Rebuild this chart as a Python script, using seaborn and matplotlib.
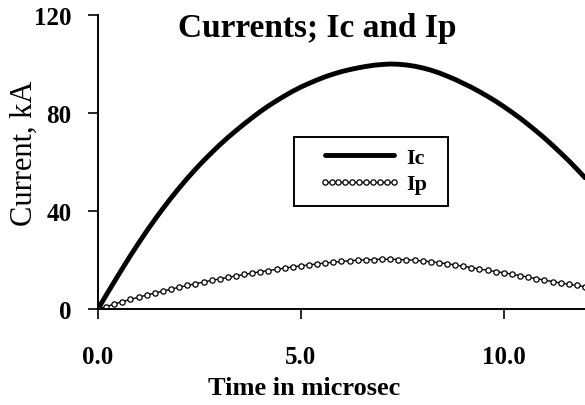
import numpy as np
import pandas as pd
import matplotlib
matplotlib.use('Agg')
import matplotlib.pyplot as plt
import matplotlib.patches as patches
import seaborn as sns

# values (time step 0.2 microsec)
time_us = [0.0, 0.2, 0.4, 0.6, 0.8, 1.0, 1.2, 1.4, 1.6, 1.8,
           2.0, 2.2, 2.4, 2.6, 2.8, 3.0, 3.2, 3.4, 3.6, 3.8,
           4.0, 4.2, 4.4, 4.6, 4.8, 5.0, 5.2, 5.4, 5.6, 5.8,
           6.0, 6.2, 6.4, 6.6, 6.8, 7.0, 7.2, 7.4, 7.6, 7.8,
           8.0, 8.2, 8.4, 8.6, 8.8, 9.0, 9.2, 9.4, 9.6, 9.8,
           10.0, 10.2, 10.4, 10.6, 10.8, 11.0, 11.2, 11.4, 11.6, 11.8,
           12.0]
ic_ka = [0, 5.6, 11.1, 16.5, 21.8, 26.9, 31.8, 36.5, 41.0, 45.3,
         49.4, 53.3, 57.0, 60.5, 63.8, 67.0, 70.0, 72.8, 75.5, 78.1,
         80.6, 82.9, 85.0, 87.0, 88.9, 90.6, 92.1, 93.5, 94.8, 95.9,
         96.9, 97.7, 98.4, 99.0, 99.5, 99.8, 100, 99.9, 99.6, 99.1,
         98.4, 97.5, 96.4, 95.1, 93.7, 92.1, 90.5, 88.7, 86.8, 84.8,
         82.6, 80.3, 77.9, 75.3, 72.6, 69.8, 66.8, 63.7, 60.5, 57.1,
         53.6]
ip_ka = [0, 1, 2, 3, 3.9, 4.8, 5.7, 6.5, 7.3, 8.1,
         8.9, 9.6, 10.3, 11, 11.7, 12.3, 12.9, 13.5, 14.1, 14.7,
         15.2, 15.7, 16.2, 16.7, 17.2, 17.6, 18, 18.4, 18.8, 19.1,
         19.4, 19.7, 19.9, 20.1, 20.2, 20.3, 20.3, 20.2, 20.1, 19.9,
         19.6, 19.3, 18.9, 18.5, 18, 17.4, 16.9, 16.3, 15.8, 15.3,
         14.8, 14.2, 13.6, 13.0, 12.4, 11.8, 11.2, 10.6, 10.1, 9.6,
         9.1]

xticks = [0, 5, 10]
xtick_labels = ["0.0", "5.0", "10.0"]
yticks = [0, 40, 80, 120]

sns.set_style('white')
plt.rcParams['font.family'] = ['Liberation Serif', 'DejaVu Serif']
plt.rcParams['text.color'] = 'black'
plt.rcParams['axes.labelcolor'] = 'black'

W, H = 585, 406
fig = plt.figure(figsize=(W / 100, H / 100), dpi=100)
ax = fig.add_axes([98 / W, 1 - 310 / H, 487 / W, 294 / H])

sns.lineplot(x=time_us, y=ic_ka, ax=ax, color='black', lw=3.5, label='Ic')
sns.lineplot(x=time_us, y=ip_ka, ax=ax, color='black', lw=1, label='Ip',
             marker='o', markersize=3.8, markerfacecolor='white',
             markeredgecolor='black', markeredgewidth=0.9)

ax.set_xlim(0, 12)
ax.set_ylim(0, 120)
ax.set_xticks(xticks)
ax.set_xticklabels(xtick_labels)
ax.set_yticks(yticks)
ax.tick_params(axis='both', direction='out', length=7.2, width=1.2,
               color='black', labelsize=18, labelcolor='black',
               bottom=True, left=True)
ax.tick_params(axis='x', pad=19)
ax.tick_params(axis='y', pad=12)
for lab in ax.get_xticklabels() + ax.get_yticklabels():
    lab.set_fontweight('bold')

for s in ['top', 'right']:
    ax.spines[s].set_visible(False)
for s in ['left', 'bottom']:
    ax.spines[s].set_color('black')
    ax.spines[s].set_linewidth(1.4)

ax.set_xlabel("Time in microsec", fontsize=19, fontweight='bold', va='baseline')
ax.xaxis.set_label_coords(0.423, (310 - 395) / 294)
ax.set_ylabel("Current, kA", fontsize=22, va='baseline')
ax.yaxis.set_label_coords((32 - 98) / 487, 0.534)

fig.text(317 / W, 1 - 37 / H, "Currents; Ic and Ip", ha='center', va='baseline',
         fontsize=24, fontweight='bold')

leg = ax.legend(loc='upper left', bbox_to_anchor=((318 - 98) / 487, (310 - 148) / 294),
                frameon=False, borderpad=0, borderaxespad=0, handlelength=3.7,
                handletextpad=0.25, labelspacing=0.28, numpoints=11,
                prop={'family': 'Liberation Serif', 'weight': 'bold', 'size': 16})
box = patches.Rectangle(((294 - 98) / 487, (310 - 207) / 294), 154 / 487, 69 / 294,
                        transform=ax.transAxes, fill=False, ec='black', lw=1.4,
                        clip_on=False)
ax.add_patch(box)

fig.savefig('out.png', dpi=100)
